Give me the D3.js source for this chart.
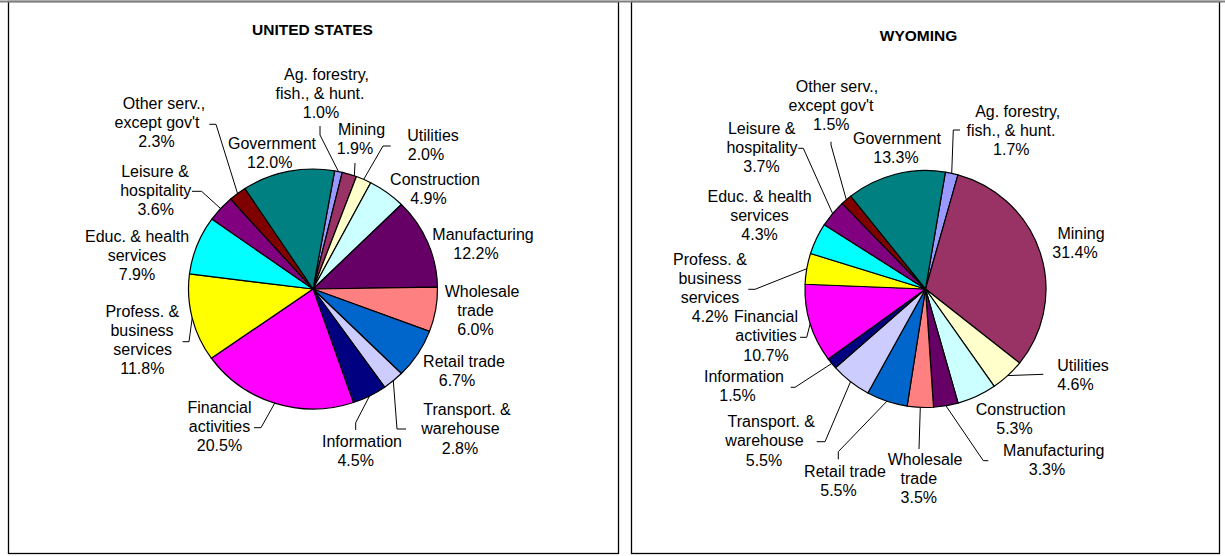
<!DOCTYPE html>
<html>
<head>
<meta charset="utf-8">
<script src="https://cdn.jsdelivr.net/npm/d3@7"></script>
<style>
  html, body { margin: 0; padding: 0; background: #fff; }
  svg { display: block; }
  text { font-family: "Liberation Sans", Arial, sans-serif; fill: #000; }
</style>
</head>
<body>
<svg id="chart" width="1225" height="556"></svg>
<script>
// ---------------- data ----------------
const categories = [
  "Ag. forestry,\nfish., & hunt.", "Mining", "Utilities", "Construction", "Manufacturing",
  "Wholesale\ntrade", "Retail trade", "Transport. &\nwarehouse", "Information",
  "Financial\nactivities", "Profess. &\nbusiness\nservices", "Educ. & health\nservices",
  "Leisure &\nhospitality", "Other serv.,\nexcept gov't", "Government"
];
const usValues = [1.0, 1.9, 2.0, 4.9, 12.2, 6.0, 6.7, 2.8, 4.5, 20.5, 11.8, 7.9, 3.6, 2.3, 12.0];
const wyValues = [1.7, 31.4, 4.6, 5.3, 3.3, 3.5, 5.5, 5.5, 1.5, 10.7, 4.2, 4.3, 3.7, 1.5, 13.3];
const titles = ["UNITED STATES", "WYOMING"];
const sliceColors = ["#9999FF", "#993366", "#FFFFCC", "#CCFFFF", "#660066", "#FF8080", "#0066CC",
  "#CCCCFF", "#000080", "#FF00FF", "#FFFF00", "#00FFFF", "#800080", "#800000", "#008080"];

// ---------------- layout ----------------
const lineH = 19.1;
const panels = [
  {
    title: titles[0], values: usValues,
    box: [8.5, 1.5, 610, 552], titleX: 312.5, titleY: 35,
    cx: 313, cy: 289, rx: 124.5, ry: 120, rot: 10,
    labels: [
      {xs: [326.5, 320, 321], y: 79.5},
      {xs: [361.5, 355], y: 135},
      {xs: [433, 426], y: 141},
      {xs: [435, 428.5], y: 185},
      {xs: [483, 476], y: 240},
      {xs: [482, 475.5, 475.5], y: 296.7},
      {xs: [464, 457], y: 366.7},
      {xs: [467, 460.4, 460], y: 415.3},
      {xs: [362, 355.7], y: 447},
      {xs: [219.5, 219.5, 219.5], y: 412.7},
      {xs: [142.3, 142, 142.7, 142.3], y: 316.7},
      {xs: [137, 137, 137], y: 241.7},
      {xs: [155, 155.8, 155.7], y: 176.7},
      {xs: [164, 157, 156.4], y: 109},
      {xs: [272, 269.7], y: 149}
    ],
    leaders: {
      0: {pts: [[320, 135], [320, 126]]},
      1: {t: 0.85, pts: [[355, 163]]},
      2: {pts: [[383, 146], [390.7, 146]]},
      7: {pts: [[397, 429], [406, 429]]},
      8: {pts: [[355.7, 422.7], [355.7, 430]]},
      9: {pts: [[261, 427.7], [254, 427.7]]},
      10: {pts: [[189, 341.7], [182.6, 341.7]]},
      12: {pts: [[201.6, 191.3], [192, 191.3]]},
      13: {pts: [[216, 124.3], [209.3, 124.3]]}
    }
  },
  {
    title: titles[1], values: wyValues,
    box: [631.5, 1.5, 588, 552], titleX: 918.5, titleY: 40.5,
    cx: 925.5, cy: 289, rx: 120.5, ry: 118.5, rot: 9.5,
    labels: [
      {xs: [1017.7, 1011, 1011.3], y: 116.7},
      {xs: [1081, 1075], y: 239.3},
      {xs: [1083, 1075.5], y: 370.7},
      {xs: [1020.7, 1014.5], y: 415},
      {xs: [1053.8, 1047], y: 456},
      {xs: [925, 918.8, 918.8], y: 465},
      {xs: [845, 838.5], y: 477.3},
      {xs: [771.3, 764.5, 764], y: 427.3},
      {xs: [744, 737.5], y: 382.3},
      {xs: [766, 766, 766], y: 322.3},
      {xs: [710, 710, 710, 710], y: 265},
      {xs: [759.6, 759.5, 759.6], y: 201.7},
      {xs: [761.7, 762, 761.5], y: 134},
      {xs: [837, 831, 831.3], y: 91.7},
      {xs: [897, 896], y: 144}
    ],
    leaders: {
      0: {pts: [[953.3, 130], [960, 130]]},
      2: {pts: [[1043.3, 374.3]]},
      4: {pts: [[983.3, 460.7], [988.3, 460.7]]},
      5: {pts: [[919, 449]]},
      6: {pts: [[838.3, 451.7], [838.3, 459.3]]},
      7: {pts: [[825, 441.7], [816.7, 441.7]]},
      8: {pts: [[795, 387.3], [790.7, 387.3]]},
      9: {pts: [[806.7, 337.3], [800, 337.3]]},
      10: {pts: [[755, 289.3], [748.3, 289.3]]},
      12: {pts: [[803.3, 148.3], [798.3, 148.3]]},
      13: {pts: [[831, 145], [831, 141.7]]}
    }
  }
];

// ---------------- drawing ----------------
const svg = d3.select("#chart");
const color = d3.scaleOrdinal().domain(categories).range(sliceColors);
const fmt = v => d3.format(".1f")(v) + "%";

panels.forEach(p => {
  const [bx, by, bw, bh] = p.box;
  svg.append("rect")
    .attr("x", bx).attr("y", by).attr("width", bw).attr("height", bh)
    .attr("fill", "#fff").attr("stroke", "#000").attr("stroke-width", 1.3);

  svg.append("text")
    .attr("x", p.titleX).attr("y", p.titleY)
    .attr("text-anchor", "middle")
    .style("font-size", "15.5px").style("font-weight", "bold")
    .text(p.title);

  const rot = p.rot * Math.PI / 180;
  const pie = d3.pie().sort(null).value(d => d.v)
    .startAngle(rot).endAngle(rot + 2 * Math.PI);
  const arcs = pie(p.values.map((v, i) => ({v, name: categories[i], i})));
  const arc = d3.arc().innerRadius(0).outerRadius(p.ry);

  const g = svg.append("g")
    .attr("transform", `translate(${p.cx},${p.cy}) scale(${p.rx / p.ry},1)`);
  g.selectAll("path").data(arcs).join("path")
    .attr("d", arc)
    .attr("fill", d => color(d.data.name))
    .attr("stroke", "#000")
    .attr("stroke-width", 1.2)
    .attr("stroke-linejoin", "round")
    .attr("vector-effect", "non-scaling-stroke");

  // leader lines
  const edge = a => [p.cx + p.rx * Math.sin(a), p.cy - p.ry * Math.cos(a)];
  Object.entries(p.leaders).forEach(([k, L]) => {
    const d = arcs[+k];
    const t = L.t == null ? 0.5 : L.t;
    const a = d.startAngle + t * (d.endAngle - d.startAngle);
    const pts = [edge(a)].concat(L.pts);
    svg.append("path")
      .attr("d", d3.line()(pts))
      .attr("fill", "none").attr("stroke", "#000").attr("stroke-width", 1);
  });

  // labels
  arcs.forEach((d, i) => {
    const lines = d.data.name.split("\n").concat([fmt(d.data.v)]);
    const L = p.labels[i];
    const txt = svg.append("text")
      .attr("text-anchor", "middle")
      .style("font-size", "16px");
    lines.forEach((s, j) => {
      txt.append("tspan")
        .attr("x", L.xs[j] != null ? L.xs[j] : L.xs[0])
        .attr("y", L.y + j * lineH)
        .text(s);
    });
  });
});

// top grey rule
svg.append("line")
  .attr("x1", 0).attr("x2", 1225).attr("y1", 1.5).attr("y2", 1.5)
  .attr("stroke", "#808080").attr("stroke-width", 2.2);
</script>
</body>
</html>
